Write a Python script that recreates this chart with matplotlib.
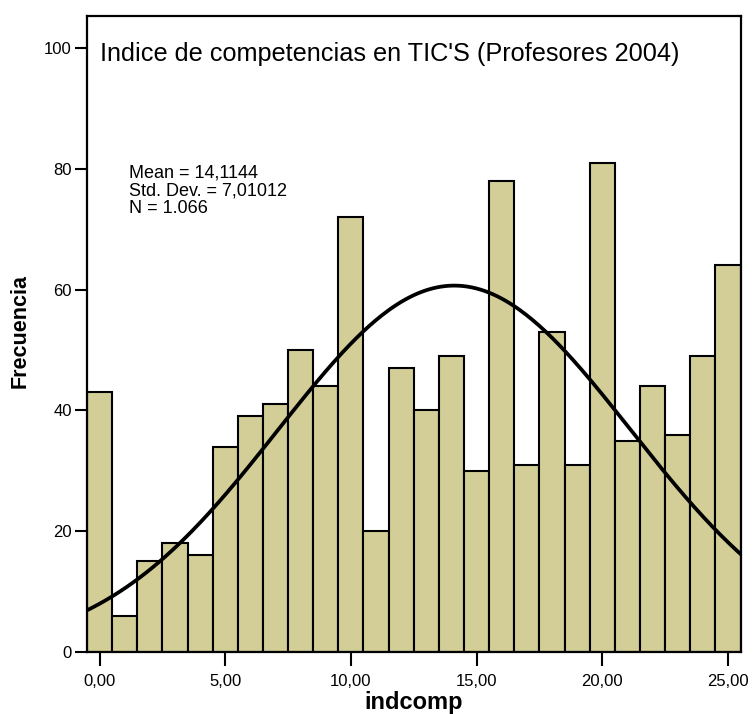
import numpy as np
import matplotlib
matplotlib.use("Agg")
import matplotlib.pyplot as plt

plt.rcParams['font.family'] = ['Liberation Sans', 'DejaVu Sans']

# Histogram data (one bar per integer value of indcomp)
bins = list(range(0, 26))
counts = [43, 6, 15, 18, 16, 34, 39, 41, 50, 44, 72, 20, 47, 40, 49,
          30, 78, 31, 53, 31, 81, 35, 44, 36, 49, 64]
mean = 14.1144
std = 7.01012
n_total = 1066
xticks = [0, 5, 10, 15, 20, 25]
yticks = [0, 20, 40, 60, 80, 100]

fig = plt.figure(figsize=(7.53, 7.14), dpi=100)
ax = fig.add_axes([0.1155, 0.0868, 0.868, 0.8908])

ax.bar(bins, counts, width=1.0, color='#D3CE98', edgecolor='black', linewidth=1.5)

# Normal curve scaled to the histogram
xs = np.linspace(-0.5, 25.5, 300)
ys = n_total * np.exp(-0.5 * ((xs - mean) / std) ** 2) / (std * np.sqrt(2 * np.pi))
ax.plot(xs, ys, color='black', linewidth=2.7)

ax.set_xlim(-0.5, 25.5)
ax.set_ylim(0, 105.3)
ax.set_xticks(xticks)
ax.set_xticklabels([f"{t:.2f}".replace('.', ',') for t in xticks])
ax.set_yticks(yticks)
for s in ax.spines.values():
    s.set_linewidth(1.6)
ax.tick_params(axis='y', direction='out', length=9, width=1.5, labelsize=12, pad=2)
ax.tick_params(axis='x', direction='out', length=10, width=1.5, labelsize=12, pad=6)

ax.set_xlabel('indcomp', fontsize=17, fontweight='bold', labelpad=1)
ax.set_ylabel('Frecuencia', fontsize=15.5, fontweight='bold')
ax.yaxis.set_label_coords(-0.086, 0.504)

ax.text(0.02, 0.94, "Indice de competencias en TIC'S (Profesores 2004)",
        transform=ax.transAxes, fontsize=18.2, va='center', ha='left')
ax.text(0.064, 0.767, f"Mean = 14,1144\nStd. Dev. = 7,01012\nN = 1.066",
        transform=ax.transAxes, fontsize=13, va='top', ha='left', linespacing=1.08)

fig.savefig('out.png', dpi=100)
